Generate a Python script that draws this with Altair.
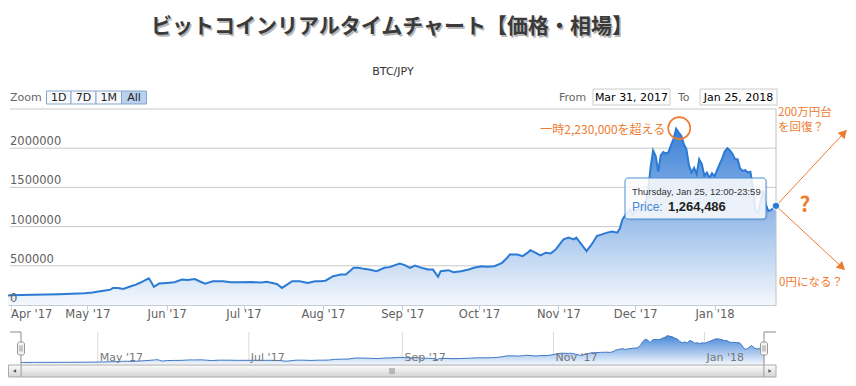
import altair as alt
import pandas as pd

# ---------------- data ----------------
dates = [
    "2017-03-31", "2017-04-01", "2017-04-05", "2017-04-10", "2017-04-15", "2017-04-20",
    "2017-04-25", "2017-04-30", "2017-05-03", "2017-05-06", "2017-05-08", "2017-05-10",
    "2017-05-11", "2017-05-13", "2017-05-15", "2017-05-18", "2017-05-20", "2017-05-22",
    "2017-05-24", "2017-05-25", "2017-05-26", "2017-05-27", "2017-05-29", "2017-06-01",
    "2017-06-04", "2017-06-07", "2017-06-09", "2017-06-12", "2017-06-14", "2017-06-16",
    "2017-06-19", "2017-06-23", "2017-06-26", "2017-06-30", "2017-07-04", "2017-07-08",
    "2017-07-10", "2017-07-14", "2017-07-16", "2017-07-18", "2017-07-20", "2017-07-23",
    "2017-07-26", "2017-07-29", "2017-07-31", "2017-08-02", "2017-08-05", "2017-08-08",
    "2017-08-10", "2017-08-13", "2017-08-15", "2017-08-17", "2017-08-19", "2017-08-22",
    "2017-08-25", "2017-08-27", "2017-08-31", "2017-09-02", "2017-09-04", "2017-09-06",
    "2017-09-08", "2017-09-11", "2017-09-13", "2017-09-15", "2017-09-16", "2017-09-19",
    "2017-09-21", "2017-09-24", "2017-09-27", "2017-09-29", "2017-10-02", "2017-10-04",
    "2017-10-07", "2017-10-10", "2017-10-12", "2017-10-13", "2017-10-16", "2017-10-18",
    "2017-10-20", "2017-10-21", "2017-10-23", "2017-10-25", "2017-10-27", "2017-10-29",
    "2017-10-31", "2017-11-02", "2017-11-03", "2017-11-05", "2017-11-07", "2017-11-08",
    "2017-11-10", "2017-11-12", "2017-11-14", "2017-11-16", "2017-11-18", "2017-11-20",
    "2017-11-22", "2017-11-24", "2017-11-25", "2017-11-26", "2017-11-27", "2017-11-28",
    "2017-11-29", "2017-11-30", "2017-12-01", "2017-12-02", "2017-12-03", "2017-12-04",
    "2017-12-05", "2017-12-06", "2017-12-07", "2017-12-08", "2017-12-09", "2017-12-10",
    "2017-12-11", "2017-12-12", "2017-12-13", "2017-12-14", "2017-12-15", "2017-12-16",
    "2017-12-17", "2017-12-18", "2017-12-19", "2017-12-20", "2017-12-21", "2017-12-22",
    "2017-12-23", "2017-12-24", "2017-12-25", "2017-12-26", "2017-12-27", "2017-12-28",
    "2017-12-29", "2017-12-30", "2017-12-31", "2018-01-01", "2018-01-02", "2018-01-03",
    "2018-01-04", "2018-01-05", "2018-01-06", "2018-01-07", "2018-01-08", "2018-01-09",
    "2018-01-10", "2018-01-11", "2018-01-12", "2018-01-13", "2018-01-14", "2018-01-15",
    "2018-01-16", "2018-01-17", "2018-01-18", "2018-01-19", "2018-01-20", "2018-01-21",
    "2018-01-22", "2018-01-23", "2018-01-24", "2018-01-25",
]
prices = [
    120000, 123000, 127000, 131000, 133000, 137000,
    143000, 150000, 160000, 175000, 185000, 196000,
    218000, 218000, 205000, 239000, 260000, 290000,
    324000, 341000, 290000, 231000, 273000, 282000,
    290000, 324000, 319000, 330000, 300000, 273000,
    303000, 303000, 290000, 290000, 292000, 288000,
    295000, 269000, 218000, 260000, 303000, 303000,
    282000, 303000, 303000, 310000, 367000, 388000,
    388000, 474000, 474000, 461000, 452000, 431000,
    474000, 483000, 530000, 508000, 474000, 504000,
    480000, 452000, 452000, 359000, 431000, 444000,
    418000, 431000, 452000, 474000, 495000, 487000,
    495000, 538000, 602000, 645000, 645000, 624000,
    667000, 700000, 667000, 632000, 667000, 658000,
    709000, 795000, 837000, 859000, 837000, 859000,
    773000, 688000, 773000, 880000, 901000, 923000,
    936000, 923000, 974000, 1090000, 1140000, 1180000,
    1220000, 1150000, 1200000, 1220000, 1250000, 1260000,
    1300000, 1450000, 1750000, 1970000, 1900000, 1700000,
    1910000, 1950000, 1930000, 1950000, 2040000, 2120000,
    2250000, 2200000, 2160000, 2050000, 1990000, 1780000,
    1690000, 1750000, 1670000, 1860000, 1800000, 1650000,
    1690000, 1620000, 1680000, 1640000, 1720000, 1800000,
    1870000, 1960000, 2000000, 1970000, 1930000, 1860000,
    1860000, 1740000, 1710000, 1720000, 1690000, 1700000,
    1500000, 1200000, 1180000, 1320000, 1460000, 1280000,
    1200000, 1210000, 1240000, 1264486,
]

grid_values = [0, 500000, 1000000, 1500000, 2000000, 2500000]
label_values = [0, 500000, 1000000, 1500000, 2000000]
axis_months = [(2017, 4), (2017, 5), (2017, 6), (2017, 7), (2017, 8), (2017, 9),
               (2017, 10), (2017, 11), (2017, 12), (2018, 1)]
nav_months = ["2017-05-01", "2017-07-01", "2017-09-01", "2017-11-01", "2018-01-01"]
nav_labels = ["May '17", "Jul '17", "Sep '17", "Nov '17", "Jan '18"]
zoom_buttons = ["1D", "7D", "1M", "All"]
selected_button = "All"
range_from = "Mar 31, 2017"
range_to = "Jan 25, 2018"

title_text = "ビットコインリアルタイムチャート【価格・相場】"
subtitle_text = "BTC/JPY"
peak_note = "一時2,230,000を超える"
peak_mark_date = ["2017-12-18T05:00:00Z"]
peak_mark_price = [2256000]
up_note = ["200万円台", "を回復？"]
down_note = "0円になる？"
tip_header = "Thursday, Jan 25, 12:00-23:59"
tip_label = "Price:"
tip_value = "1,264,486"

# ---------------- tables ----------------
df = pd.DataFrame({"date": dates, "price": prices})
last_df = df.tail(1)
grid_df = pd.DataFrame({"v": grid_values})
lab_df = pd.DataFrame({"v": label_values, "t": [str(v) for v in label_values]})
nav_df = pd.DataFrame({"d": nav_months, "t": nav_labels})
peak_df = pd.DataFrame({"date": peak_mark_date, "price": peak_mark_price})
one = alt.InlineData(values=[{"a": 1}])

ORANGE = "#ee7b30"
BLUE = "#2b7bd5"
LABEL = "#606060"
FONT = "DejaVu Sans"
JP = "Noto Sans CJK JP"

W, H = 768, 196

xs = alt.Scale(type="utc", domain=[alt.DateTime(year=2017, month=3, date=31, utc=True),
                                   alt.DateTime(year=2018, month=1, date=25, utc=True)])
ys = alt.Scale(domain=[0, 2500000])
nav_xs = alt.Scale(type="utc", domain=[alt.DateTime(year=2017, month=3, date=31, utc=True),
                                       alt.DateTime(year=2018, month=1, date=25, utc=True)],
                   range=[13, 756])
nav_ys = alt.Scale(domain=[0, 2300000], range=[255, 226])

X = alt.X("date:T", scale=xs, axis=None)
Y = alt.Y("price:Q", scale=ys, axis=None)


def px_text(txt, x, y, **kw):
    return alt.Chart(one).mark_text(text=txt, **kw).encode(x=alt.value(x), y=alt.value(y))


def px_rect(x, x2, y, y2, **kw):
    return alt.Chart(one).mark_rect(**kw).encode(
        x=alt.value(x), x2=alt.value(x2), y=alt.value(y), y2=alt.value(y2))


def px_rule(x, y, x2, y2, **kw):
    return alt.Chart(one).mark_rule(**kw).encode(
        x=alt.value(x), y=alt.value(y), x2=alt.value(x2), y2=alt.value(y2))


layers = []

# ---- header ----
layers.append(px_text(title_text, 385.5, -80.5, font=JP, fontSize=21, fontWeight="bold",
                      color="#b8b8b8", align="center", baseline="middle"))
layers.append(px_text(title_text, 384, -82, font=JP, fontSize=21, fontWeight="bold",
                      color="#3a3a3a", align="center", baseline="middle"))
layers.append(px_text(subtitle_text, 385, -37, font=FONT, fontSize=11, color="#333333",
                      align="center", baseline="middle"))
layers.append(px_text("Zoom", 2, -11.5, font=FONT, fontSize=11, color="#666666",
                      align="left", baseline="middle"))
btn_edges = [38.5, 63, 88, 113.5, 138.5]
for i, b in enumerate(zoom_buttons):
    sel = b == selected_button
    layers.append(px_rect(btn_edges[i], btn_edges[i + 1], -18, -5,
                          fill="#b9d0ef" if sel else "#f7f9fc", stroke="#86a6cf",
                          strokeWidth=1))
    layers.append(px_text(b, (btn_edges[i] + btn_edges[i + 1]) / 2, -11.5, font=FONT,
                          fontSize=11, color="#222222", align="center", baseline="middle"))
layers.append(px_text("From", 551, -11.5, font=FONT, fontSize=11, color="#666666",
                      align="left", baseline="middle"))
layers.append(px_rect(585, 662, -20, -4, fill="#ffffff", stroke="#cccccc", strokeWidth=1))
layers.append(px_text(range_from, 623.5, -11.5, font=FONT, fontSize=11, color="#000000",
                      align="center", baseline="middle"))
layers.append(px_text("To", 670, -11.5, font=FONT, fontSize=11, color="#666666",
                      align="left", baseline="middle"))
layers.append(px_rect(692, 769, -20, -4, fill="#ffffff", stroke="#cccccc", strokeWidth=1))
layers.append(px_text(range_to, 730.5, -11.5, font=FONT, fontSize=11, color="#000000",
                      align="center", baseline="middle"))

# ---- main plot ----
layers.append(alt.Chart(grid_df).mark_rule(color="#c8c8c8", strokeWidth=1).encode(
    y=alt.Y("v:Q", scale=ys, axis=None), x=alt.value(2), x2=alt.value(W)))

gradient = alt.LinearGradient(
    gradient="linear",
    stops=[alt.GradientStop(color="#3a7fd6", offset=0),
           alt.GradientStop(color="#f4f8fd", offset=1)],
    x1=1, x2=1, y1=0, y2=1)

layers.append(alt.Chart(df).mark_area(color=gradient, opacity=1).encode(
    x=alt.X("date:T", scale=xs,
            axis=alt.Axis(values=[alt.DateTime(year=y, month=m, date=1, utc=True)
                                  for y, m in axis_months],
                          format="%b '%y", labelFlush=5, grid=False, title=None,
                          domainColor="#C0D0E0", tickColor="#C0D0E0", tickSize=5,
                          labelPadding=-2, labelColor=LABEL, labelFont=FONT,
                          labelFontSize=11.5, labelOverlap=False)),
    y=Y))
layers.append(alt.Chart(df).mark_line(color=BLUE, strokeWidth=2).encode(x=X, y=Y))

layers.append(alt.Chart(lab_df).mark_text(align="left", baseline="alphabetic", dy=-3,
                                          font=FONT, fontSize=11.5, color=LABEL).encode(
    y=alt.Y("v:Q", scale=ys, axis=None), x=alt.value(2), text="t:N"))

# crosshair at the hovered point
layers.append(alt.Chart(last_df).mark_rule(color="#c0c0c0", strokeWidth=1).encode(
    x=X, y=alt.value(0), y2=alt.value(H)))

# peak annotation
layers.append(alt.Chart(peak_df).mark_point(shape="circle", size=484, filled=False,
                                            color=ORANGE, strokeWidth=1.6, opacity=1).encode(
    x=X, y=Y))
layers.append(alt.Chart(peak_df).mark_text(text=peak_note, align="right", baseline="middle",
                                           dx=-14, dy=2, font=JP, fontSize=12,
                                           color=ORANGE).encode(x=X, y=Y))

# arrows from the last point
up_tip = (838.7, 21)
down_tip = (837, 161)
layers.append(alt.Chart(last_df).mark_rule(color=ORANGE, strokeWidth=1).encode(
    x=X, y=Y, x2=alt.value(up_tip[0]), y2=alt.value(up_tip[1])))
layers.append(alt.Chart(last_df).mark_rule(color=ORANGE, strokeWidth=1).encode(
    x=X, y=Y, x2=alt.value(down_tip[0]), y2=alt.value(down_tip[1])))
layers.append(alt.Chart(one).mark_point(shape="triangle-up", size=90, filled=True,
                                        color=ORANGE, opacity=1, angle=43).encode(
    x=alt.value(835.9), y=alt.value(24.0)))
layers.append(alt.Chart(one).mark_point(shape="triangle-up", size=90, filled=True,
                                        color=ORANGE, opacity=1, angle=133).encode(
    x=alt.value(834.0), y=alt.value(158.2)))
layers.append(px_text(up_note[0], 770, 4.0, font=JP, fontSize=11.5, color=ORANGE,
                      align="left", baseline="middle"))
layers.append(px_text(up_note[1], 770, 18.5, font=JP, fontSize=11.5, color=ORANGE,
                      align="left", baseline="middle"))
layers.append(px_text("?", 797, 97, font=JP, fontSize=21, fontWeight="bold", color=ORANGE,
                      align="center", baseline="middle"))
layers.append(px_text(down_note, 771, 174, font=JP, fontSize=11.5, color=ORANGE,
                      align="left", baseline="middle"))

# tooltip
layers.append(px_rect(618.5, 759.5, 70.5, 111.5, fill="#000000", opacity=0.08, cornerRadius=3))
layers.append(px_rect(617, 758, 69, 110, fill="#ffffff", fillOpacity=0.85, stroke="#4a8fd8",
                      strokeWidth=1, cornerRadius=3))
layers.append(px_text(tip_header, 624, 83, font="Liberation Sans", fontSize=9.5,
                      color="#333333", align="left", baseline="middle"))
layers.append(px_text(tip_label, 624, 97.5, font="Liberation Sans", fontSize=12,
                      color="#4a86d6", align="left", baseline="middle"))
layers.append(px_text(tip_value, 660, 97.5, font="Liberation Sans", fontSize=13,
                      fontWeight="bold", color="#222222", align="left", baseline="middle"))

layers.append(alt.Chart(last_df).mark_point(shape="circle", size=55, filled=True,
                                            color=BLUE, stroke="#ffffff", strokeWidth=1,
                                            opacity=1).encode(x=X, y=Y))

# ---- navigator ----
layers.append(alt.Chart(nav_df).mark_rule(color="#dcdcdc", strokeWidth=1).encode(
    x=alt.X("d:T", scale=nav_xs, axis=None), y=alt.value(223), y2=alt.value(256)))

nav_gradient = alt.LinearGradient(
    gradient="linear",
    stops=[alt.GradientStop(color="#4686d8", offset=0),
           alt.GradientStop(color="#eef4fc", offset=1)],
    x1=1, x2=1, y1=0, y2=1)
layers.append(alt.Chart(df).mark_area(color=nav_gradient, opacity=1).encode(
    x=alt.X("date:T", scale=nav_xs, axis=None),
    y=alt.Y("price:Q", scale=nav_ys, axis=None)))
layers.append(alt.Chart(df).mark_line(color="#3f78c4", strokeWidth=1).encode(
    x=alt.X("date:T", scale=nav_xs, axis=None),
    y=alt.Y("price:Q", scale=nav_ys, axis=None)))
layers.append(alt.Chart(nav_df).mark_text(align="left", baseline="middle", dx=2,
                                          font=FONT, fontSize=11, color="#777777").encode(
    x=alt.X("d:T", scale=nav_xs, axis=None), y=alt.value(248.5), text="t:N"))

OUT = "#8a8a8a"
for (a, b, c, d) in [(2, 223, 13, 223), (13, 223, 13, 233), (13, 246, 13, 256),
                     (756, 223, 768, 223), (756, 223, 756, 233), (756, 246, 756, 256)]:
    layers.append(px_rule(a, b, c, d, color=OUT, strokeWidth=1))
for cx in (13, 756):
    layers.append(px_rect(cx - 3.5, cx + 3.5, 233, 246, fill="#f2f2f2", stroke="#999999",
                          strokeWidth=1, cornerRadius=2))
    layers.append(px_rule(cx - 1, 236.5, cx - 1, 242.5, color="#999999", strokeWidth=1))
    layers.append(px_rule(cx + 1, 236.5, cx + 1, 242.5, color="#999999", strokeWidth=1))

# scrollbar
sb_gradient = alt.LinearGradient(
    gradient="linear",
    stops=[alt.GradientStop(color="#fbfbfb", offset=0),
           alt.GradientStop(color="#d4d4d4", offset=1)],
    x1=0, x2=0, y1=0, y2=1)
layers.append(px_rect(13, 756, 256, 268, fill=sb_gradient, stroke="#aaaaaa", strokeWidth=1))
layers.append(px_rect(0.5, 13, 256, 268, fill=sb_gradient, stroke="#aaaaaa", strokeWidth=1))
layers.append(px_rect(756, 768, 256, 268, fill=sb_gradient, stroke="#aaaaaa", strokeWidth=1))
layers.append(alt.Chart(one).mark_point(shape="triangle-left", size=14, filled=True,
                                        color="#555555", opacity=1).encode(
    x=alt.value(6.5), y=alt.value(262)))
layers.append(alt.Chart(one).mark_point(shape="triangle-right", size=14, filled=True,
                                        color="#555555", opacity=1).encode(
    x=alt.value(762), y=alt.value(262)))
for gx in (382, 384, 386):
    layers.append(px_rule(gx, 259, gx, 265, color="#8a8a8a", strokeWidth=1))

chart = alt.layer(*layers).resolve_scale(x="independent", y="independent").properties(
    width=W, height=H,
    padding={"left": 0, "top": 101, "right": 72, "bottom": 73},
    autosize=alt.AutoSizeParams(type="none"),
    background="#ffffff",
).configure_view(stroke=None)

chart.save("out.html", embed_options={"renderer": "svg", "actions": False})
